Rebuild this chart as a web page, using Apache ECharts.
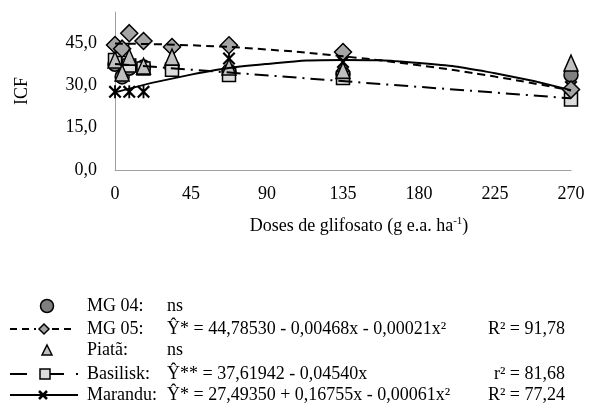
<!DOCTYPE html>
<html><head><meta charset="utf-8">
<script src="https://cdn.jsdelivr.net/npm/echarts@6/dist/echarts.min.js"></script>
<style>html,body{margin:0;padding:0;background:#fff}#c{width:591px;height:405px}</style>
</head><body><div id="c"></div>
<script>
// Doses de glifosato (g e.a. ha-1)
const doses = [0, 4.22, 8.44, 16.88, 33.75, 67.5, 135, 270];
// ICF values
const mg04 = [37.5, 33.0, 36.1, 36.5, 36.3, 35.0, 34.0, 33.7];
const mg05 = [44.3, 43.0, 48.5, 45.7, 43.6, 44.2, 41.8, 28.5];
const piata = [39.0, 34.4, 40.0, 36.8, 40.0, 36.5, 35.3, 37.9];
const basilisk = [39.0, 42.5, 37.0, 36.0, 35.5, 33.7, 32.6, 25.0];
const marandu = [27.7, 36.0, 27.7, 27.7, 36.0, 39.5, 38.3, 29.4];
// fitted curves
const fitX = [0, 45, 90, 135, 180, 225, 270];
const mg05Fit = [44.8, 44.2, 42.7, 40.3, 37.1, 33.1, 28.2];
const maranduFit = [27.5, 33.8, 37.6, 39.0, 37.9, 34.3, 28.3];
const basiliskFitX = [0, 270];
const basiliskFit = [37.6, 25.4];
// legend texts
const legendNames = ['MG 04:', 'MG 05:', 'Piatã:', 'Basilisk:', 'Marandu:'];
const legendEq = ['ns', 'Ŷ* = 44,78530 - 0,00468x - 0,00021x²', 'ns', 'Ŷ** = 37,61942 - 0,04540x', 'Ŷ* = 27,49350 + 0,16755x - 0,00061x²'];
const legendR = ['', 'R² = 91,78', '', 'r² = 81,68', 'R² = 77,24'];

const FONT = 'Liberation Serif';
const zip = (xs, ys) => xs.map((x, i) => [x, ys[i]]);
const XPATH = 'path://M0,1.2L1.2,0L5,3.8L8.8,0L10,1.2L6.2,5L10,8.8L8.8,10L5,6.2L1.2,10L0,8.8L3.8,5Z M4.3,0L5.7,0L5.7,10L4.3,10Z';
const C_MG04 = '#7f7f7f', C_MG05 = '#a5a5a5', C_PIATA = '#c0c0c0', C_BAS = '#dcdcdc';

const chart = echarts.init(document.getElementById('c'));

const rowsY = [306, 329, 350, 374, 395];
const g = [];
g.push({type:'text', x:22, y:91, rotation:Math.PI/2, style:{text:'ICF', font:'18px "'+FONT+'"', fill:'#000', align:'center', verticalAlign:'middle', textAlign:'center', textVerticalAlign:'middle'}});
g.push({type:'text', x:359, y:226, style:{text:'{n|Doses de glifosato (g e.a. ha}{s|-1}{n|)}', align:'center', verticalAlign:'middle', textAlign:'center', textVerticalAlign:'middle',
  rich:{n:{fontFamily:FONT, fontSize:18, lineHeight:20, fill:'#000', color:'#000'}, s:{fontFamily:FONT, fontSize:11, lineHeight:12, verticalAlign:'top', fill:'#000', color:'#000'}}}});
const sw = {stroke:'#000', lineWidth:1.5};
g.push({type:'circle', shape:{cx:47, cy:rowsY[0], r:6.5}, style:Object.assign({fill:C_MG04}, sw)});
g.push({type:'line', shape:{x1:10, y1:rowsY[1], x2:36, y2:rowsY[1]}, style:{stroke:'#000', lineWidth:2, lineDash:[7,5]}});
g.push({type:'line', shape:{x1:52, y1:rowsY[1], x2:76, y2:rowsY[1]}, style:{stroke:'#000', lineWidth:2, lineDash:[7,5]}});
g.push({type:'polygon', shape:{points:[[44,rowsY[1]-5],[49,rowsY[1]],[44,rowsY[1]+5],[39,rowsY[1]]]}, style:Object.assign({fill:C_MG05}, sw)});
g.push({type:'polygon', shape:{points:[[47,rowsY[2]-5],[52,rowsY[2]+5],[42,rowsY[2]+5]]}, style:Object.assign({fill:C_PIATA}, sw)});
g.push({type:'line', shape:{x1:10, y1:rowsY[3], x2:27, y2:rowsY[3]}, style:{stroke:'#000', lineWidth:2}});
g.push({type:'line', shape:{x1:50, y1:rowsY[3], x2:64, y2:rowsY[3]}, style:{stroke:'#000', lineWidth:2}});
g.push({type:'line', shape:{x1:76, y1:rowsY[3], x2:78, y2:rowsY[3]}, style:{stroke:'#000', lineWidth:2}});
g.push({type:'rect', shape:{x:40, y:rowsY[3]-5, width:10, height:10}, style:Object.assign({fill:C_BAS}, sw)});
g.push({type:'line', shape:{x1:10, y1:rowsY[4], x2:78, y2:rowsY[4]}, style:{stroke:'#000', lineWidth:2}});
g.push({type:'line', shape:{x1:39, y1:rowsY[4]-4, x2:47, y2:rowsY[4]+4}, style:{stroke:'#000', lineWidth:2.5}});
g.push({type:'line', shape:{x1:47, y1:rowsY[4]-4, x2:39, y2:rowsY[4]+4}, style:{stroke:'#000', lineWidth:2.5}});
legendNames.forEach((t, i) => {
  g.push({type:'text', x:87, y:rowsY[i], style:{text:t, font:'18px "'+FONT+'"', fill:'#000', align:'left', verticalAlign:'middle', textAlign:'left', textVerticalAlign:'middle'}});
  g.push({type:'text', x:167, y:rowsY[i], style:{text:legendEq[i], font:'18px "'+FONT+'"', fill:'#000', align:'left', verticalAlign:'middle', textAlign:'left', textVerticalAlign:'middle'}});
  if (legendR[i]) g.push({type:'text', x:565, y:rowsY[i], style:{text:legendR[i], font:'18px "'+FONT+'"', fill:'#000', align:'right', verticalAlign:'middle', textAlign:'right', textVerticalAlign:'middle'}});
});

const scatter = (name, data, symbol, size, color) => ({
  name, type:'scatter', data, symbol, symbolSize:size, silent:true,
  itemStyle:{color, borderColor:'#000', borderWidth: symbol === XPATH ? 0 : 1.5, opacity:1}
});

chart.setOption({
  animation:false,
  backgroundColor:'#fff',
  grid:{left:115, right:20, top:12, bottom:235, containLabel:false, outerBoundsMode:'none'},
  xAxis:{type:'value', min:0, max:270, interval:45,
    axisLine:{show:true, onZero:false, lineStyle:{color:'#a0a0a0', width:1}},
    axisTick:{show:false}, splitLine:{show:false},
    axisLabel:{fontFamily:FONT, fontSize:18, color:'#000', margin:15}},
  yAxis:{type:'value', min:0, max:56, interval:15,
    axisLine:{show:true, lineStyle:{color:'#a0a0a0', width:1}},
    axisTick:{show:false}, splitLine:{show:false},
    axisLabel:{fontFamily:FONT, fontSize:18, color:'#000', margin:18,
      formatter:v => v > 50 ? '' : v.toFixed(1).replace('.', ',')}},
  graphic:g,
  series:[
    {type:'line', data:zip(fitX, mg05Fit), smooth:true, showSymbol:false, silent:true, lineStyle:{color:'#000', width:2, type:[8,5]}},
    {type:'line', data:zip(basiliskFitX, basiliskFit), showSymbol:false, silent:true, lineStyle:{color:'#000', width:2, type:[14,6,2,6]}},
    {type:'line', data:zip(fitX, maranduFit), smooth:true, showSymbol:false, silent:true, lineStyle:{color:'#000', width:2}},
    scatter('Marandu', zip(doses, marandu), XPATH, 13, '#000'),
    scatter('MG 04', zip(doses, mg04), 'circle', 14, C_MG04),
    scatter('Basilisk', zip(doses, basilisk), 'rect', 13, C_BAS),
    scatter('MG 05', zip(doses, mg05), 'diamond', 17, C_MG05),
    scatter('Piatã', zip(doses, piata), 'triangle', [14, 16], C_PIATA)
  ]
});
</script></body></html>
